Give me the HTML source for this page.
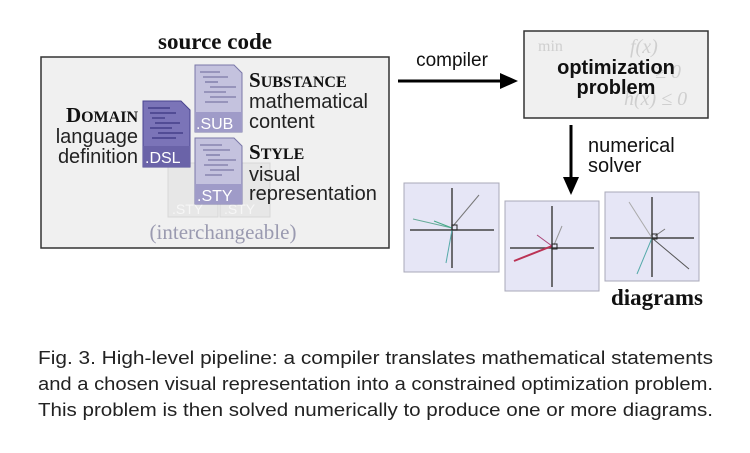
<!DOCTYPE html>
<html><head><meta charset="utf-8"><style>
html,body{margin:0;padding:0;background:#fff;width:750px;height:453px;overflow:hidden}
svg{display:block}
</style></head><body>
<svg width="750" height="453" viewBox="0 0 750 453" xmlns="http://www.w3.org/2000/svg" font-family="Liberation Sans, sans-serif">
<text x="215" y="49" font-family="Liberation Serif, serif" font-weight="bold" font-size="23" text-anchor="middle" fill="#111">source code</text>
<rect x="41" y="57" width="348" height="191" fill="#f0f0f0" stroke="#333" stroke-width="1.5"/>
<g opacity="0.45">
<rect x="168" y="163" width="50" height="54" fill="#ddd" stroke="#bbb"/>
<rect x="220" y="163" width="50" height="54" fill="#ddd" stroke="#bbb"/>
<text x="172" y="214" font-size="14" fill="#fff">.STY</text>
<text x="224" y="214" font-size="14" fill="#fff">.STY</text>
</g>
<path d="M143 101 H181 L190 110 V167 H143 Z" fill="#7b74b8" stroke="#4a4590" stroke-width="1"/>
<rect x="143" y="146" width="47" height="21" fill="#6a63a8"/>
<g stroke="#3a3580" stroke-width="1.2">
<line x1="148" y1="108" x2="170" y2="108"/><line x1="150" y1="113" x2="176" y2="113"/>
<line x1="152" y1="118" x2="165" y2="118"/><line x1="155" y1="123" x2="180" y2="123"/>
<line x1="150" y1="128" x2="172" y2="128"/><line x1="158" y1="133" x2="183" y2="133"/>
<line x1="152" y1="138" x2="176" y2="138"/>
</g>
<text x="145" y="163" font-size="16" fill="#fff">.DSL</text>
<path d="M195 65 H234 L242 73 V132 H195 Z" fill="#c4c2de" stroke="#7a77a8" stroke-width="1"/>
<rect x="195" y="112" width="47" height="20" fill="#9f9bc8"/>
<g stroke="#6a6798" stroke-width="1.1">
<line x1="200" y1="72" x2="220" y2="72"/><line x1="203" y1="77" x2="228" y2="77"/>
<line x1="205" y1="82" x2="218" y2="82"/><line x1="210" y1="87" x2="236" y2="87"/>
<line x1="204" y1="92" x2="226" y2="92"/><line x1="210" y1="97" x2="236" y2="97"/>
<line x1="205" y1="102" x2="228" y2="102"/>
</g>
<text x="196" y="129" font-size="16" fill="#fff">.SUB</text>
<path d="M195 138 H234 L242 146 V204 H195 Z" fill="#c4c2de" stroke="#7a77a8" stroke-width="1"/>
<rect x="195" y="184" width="47" height="20" fill="#9f9bc8"/>
<g stroke="#6a6798" stroke-width="1.1">
<line x1="200" y1="145" x2="222" y2="145"/><line x1="203" y1="150" x2="230" y2="150"/>
<line x1="206" y1="155" x2="220" y2="155"/><line x1="208" y1="160" x2="236" y2="160"/>
<line x1="204" y1="165" x2="228" y2="165"/><line x1="210" y1="170" x2="234" y2="170"/>
<line x1="205" y1="175" x2="222" y2="175"/>
</g>
<text x="197" y="201" font-size="16" fill="#fff">.STY</text>
<g font-family="Liberation Serif, serif" font-weight="bold" fill="#111">
<text x="138" y="122" text-anchor="end" font-size="21">D<tspan font-size="16">OMAIN</tspan></text>
<text x="249" y="87" font-size="21">S<tspan font-size="16">UBSTANCE</tspan></text>
<text x="249" y="159" font-size="21">S<tspan font-size="16">TYLE</tspan></text>
</g>
<g font-size="20" fill="#222">
<text x="138" y="143" text-anchor="end">language</text>
<text x="138" y="163" text-anchor="end">definition</text>
<text x="249" y="108">mathematical</text>
<text x="249" y="128">content</text>
<text x="249" y="181">visual</text>
<text x="249" y="200">representation</text>
</g>
<text x="223" y="239" font-family="Liberation Serif, serif" font-size="21" fill="#9a9ab0" text-anchor="middle">(interchangeable)</text>
<text x="452" y="66" font-size="19" fill="#111" text-anchor="middle">compiler</text>
<line x1="398" y1="81" x2="505" y2="81" stroke="#000" stroke-width="3"/>
<polygon points="518,81 500,73 500,89" fill="#000"/>
<rect x="524" y="31" width="184" height="87" fill="#f0f0f0" stroke="#333" stroke-width="1.5"/>
<g font-family="Liberation Serif, serif" font-style="italic" fill="#cfcfcf" font-size="20">
<text x="538" y="51" font-style="normal" font-size="16">min</text>
<text x="630" y="53">f(x)</text>
<text x="655" y="78">≥ 0</text>
<text x="624" y="105">h(x) ≤ 0</text>
</g>
<text x="616" y="74" font-size="20" font-weight="bold" fill="#111" text-anchor="middle">optimization</text>
<text x="616" y="94" font-size="20" font-weight="bold" fill="#111" text-anchor="middle">problem</text>
<line x1="571" y1="125" x2="571" y2="180" stroke="#000" stroke-width="3"/>
<polygon points="571,195 563,177 579,177" fill="#000"/>
<text x="588" y="152" font-size="20" fill="#111">numerical</text>
<text x="588" y="172" font-size="20" fill="#111">solver</text>
<g stroke="#a8a8b8" stroke-width="1" fill="#e6e6f6">
<rect x="404" y="183" width="95" height="89"/>
<rect x="505" y="201" width="94" height="90"/>
<rect x="605" y="192" width="94" height="89"/>
</g>
<g stroke="#444" stroke-width="1.5">
<line x1="452" y1="188" x2="452" y2="268"/><line x1="410" y1="230" x2="494" y2="230"/>
<line x1="552" y1="206" x2="552" y2="287"/><line x1="510" y1="248" x2="594" y2="248"/>
<line x1="652" y1="197" x2="652" y2="277"/><line x1="610" y1="238" x2="694" y2="238"/>
</g>
<g stroke-width="1" fill="none">
<line x1="453" y1="226" x2="479" y2="195" stroke="#777"/>
<line x1="452" y1="228" x2="413" y2="219" stroke="#6a9"/>
<line x1="452" y1="228" x2="434" y2="221" stroke="#4a8"/>
<line x1="452" y1="230" x2="446" y2="263" stroke="#5aa"/>
<rect x="452" y="225" width="5" height="5" stroke="#222"/>
<line x1="552" y1="246" x2="514" y2="261" stroke="#b35" stroke-width="2"/>
<line x1="552" y1="246" x2="537" y2="235" stroke="#a47"/>
<line x1="554" y1="245" x2="562" y2="226" stroke="#999"/>
<rect x="552" y="244" width="5" height="5" stroke="#222"/>
<line x1="652" y1="238" x2="629" y2="202" stroke="#aaa"/>
<line x1="652" y1="238" x2="689" y2="269" stroke="#555"/>
<line x1="652" y1="238" x2="637" y2="274" stroke="#5aa"/>
<line x1="655" y1="236" x2="665" y2="229" stroke="#777"/>
<rect x="652" y="234" width="5" height="5" stroke="#222"/>
</g>
<text x="657" y="305" font-family="Liberation Serif, serif" font-weight="bold" font-size="23" fill="#111" text-anchor="middle">diagrams</text>
<g font-size="18" fill="#222">
<text x="38" y="364" textLength="675" lengthAdjust="spacingAndGlyphs">Fig. 3.  High-level pipeline: a compiler translates mathematical statements</text>
<text x="38" y="390" textLength="675" lengthAdjust="spacingAndGlyphs">and a chosen visual representation into a constrained optimization problem.</text>
<text x="38" y="416" textLength="675" lengthAdjust="spacingAndGlyphs">This problem is then solved numerically to produce one or more diagrams.</text>
</g>
</svg>
</body></html>
